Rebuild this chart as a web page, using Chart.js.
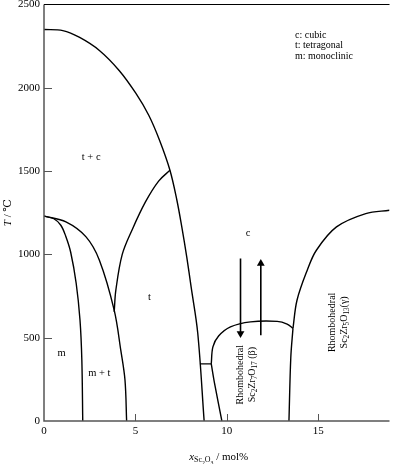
<!DOCTYPE html>
<html>
<head>
<meta charset="utf-8">
<script src="https://cdn.jsdelivr.net/npm/chart.js@4.4.1/dist/chart.umd.min.js"></script>
<style>
  html, body { margin: 0; padding: 0; background: #fff; }
  #wrap { width: 394px; height: 464px; position: relative; }
</style>
</head>
<body>
<div id="wrap"><canvas id="chart"></canvas></div>
<script>
// ---- data: x = Sc2O3 mol%, y = T / °C ----
const xTicks = [0, 5, 10, 15];
const yTicks = [0, 500, 1000, 1500, 2000, 2500];

const outerDome  = [[0,2350],[1.03,2343],[1.95,2302],[3.03,2224],[4.11,2104],[5.03,1966],[5.73,1835],[6.32,1685],[6.89,1505],[7.27,1325],[7.54,1163],[7.81,983],[8.05,803],[8.41,528],[8.76,0]];
const tcCurve    = [[3.84,655],[3.93,785],[4.28,1000],[4.83,1150],[5.55,1315],[6.27,1440],[6.89,1505]];
const tBoundary  = [[0,1230],[1.2,1195],[2.3,1105],[3.03,965],[3.84,665],[4.2,425],[4.43,246],[4.52,0]];
const mBoundary  = [[0,1230],[0.54,1214],[0.92,1175],[1.19,1109],[1.46,1013],[1.76,827],[1.97,605],[2.07,366],[2.12,0]];
const eutectoid  = [[8.53,343],[9.15,343]];
const betaLeft   = [[9.15,343],[9.33,226],[9.73,0]];
const betaDome   = [[9.15,343],[9.24,445],[9.55,510],[10.2,565],[11.3,595],[12.76,598],[13.3,582],[13.62,556]];
const betaRight  = [[13.62,556],[13.5,380],[13.4,0]];
const gammaCurve = [[13.62,556],[13.84,725],[14.4,905],[14.9,1025],[16.0,1165],[17.6,1245],[18.9,1265]];

const arrowDown = [[10.75,975],[10.75,525]];
const arrowUp   = [[11.86,515],[11.86,945]];

const regionLabels = [
  ['t + c', 2.58, 1581],
  ['t', 5.77, 745],
  ['m', 0.96, 406],
  ['m + t', 3.03, 286],
  ['c', 11.17, 1125]
];
const legendNotes = ['c: cubic', 't: tetragonal', 'm: monoclinic'];

const curves = [outerDome, tcCurve, tBoundary, mBoundary, eutectoid, betaLeft, betaDome, betaRight, gammaCurve];

const SERIF = '"Liberation Serif", "DejaVu Serif", serif';

// draws text pieces (s = subscript level, i = italic) centred on (cx, cy)
function drawRich(ctx, parts, cx, cy, size) {
  const sz = p => size * Math.pow(0.72, p.s || 0);
  const fontOf = p => (p.i ? 'italic ' : '') + sz(p) + 'px ' + SERIF;
  const dy = p => (p.s ? size * 0.28 * p.s : 0);
  let w = 0;
  parts.forEach(p => { ctx.font = fontOf(p); w += ctx.measureText(p.t).width; });
  let x = cx - w / 2;
  ctx.textAlign = 'left';
  ctx.textBaseline = 'middle';
  parts.forEach(p => {
    ctx.font = fontOf(p);
    ctx.fillText(p.t, x, cy + dy(p));
    x += ctx.measureText(p.t).width;
  });
}

const decorations = {
  id: 'decorations',
  afterDraw(chart) {
    const { ctx, chartArea: a, scales: { x, y } } = chart;
    ctx.save();
    ctx.fillStyle = '#000';

    // axes frame
    ctx.lineWidth = 1.5;
    ctx.strokeStyle = '#555';
    ctx.beginPath();
    ctx.moveTo(a.left, a.top); ctx.lineTo(a.left, a.bottom); ctx.lineTo(a.right, a.bottom);
    ctx.stroke();
    ctx.strokeStyle = '#000';
    ctx.lineWidth = 1.2;
    ctx.beginPath();
    ctx.moveTo(a.left, a.top); ctx.lineTo(a.right, a.top);
    ctx.stroke();

    // inward ticks
    ctx.strokeStyle = '#555';
    ctx.lineWidth = 1;
    ctx.beginPath();
    xTicks.slice(1).forEach(v => { const px = Math.round(x.getPixelForValue(v)) + 0.5; ctx.moveTo(px, a.bottom); ctx.lineTo(px, a.bottom - 7); });
    yTicks.slice(1, -1).forEach(v => { const py = Math.round(y.getPixelForValue(v)) + 0.5; ctx.moveTo(a.left, py); ctx.lineTo(a.left + 8, py); });
    ctx.stroke();

    // phase region labels
    ctx.font = '10.5px ' + SERIF;
    ctx.textAlign = 'center';
    ctx.textBaseline = 'middle';
    regionLabels.forEach(([t, vx, vy]) => ctx.fillText(t, x.getPixelForValue(vx), y.getPixelForValue(vy)));

    // rotated compound labels
    const rotated = (vx, vy, parts) => {
      ctx.save();
      ctx.translate(x.getPixelForValue(vx), y.getPixelForValue(vy));
      ctx.rotate(-Math.PI / 2);
      drawRich(ctx, parts, 0, 0, 10);
      ctx.restore();
    };
    rotated(10.76, 278, [{ t: 'Rhombohedral' }]);
    rotated(11.42, 278, [{ t: 'Sc' }, { t: '2', s: 1 }, { t: 'Zr' }, { t: '7', s: 1 }, { t: 'O' }, { t: '17', s: 1 }, { t: ' (β)' }]);
    rotated(15.78, 592, [{ t: 'Rhombohedral' }]);
    rotated(16.42, 592, [{ t: 'Sc' }, { t: '2', s: 1 }, { t: 'Zr' }, { t: '5', s: 1 }, { t: 'O' }, { t: '13', s: 1 }, { t: '(γ)' }]);

    // notes
    ctx.font = '10px ' + SERIF;
    ctx.textAlign = 'left';
    legendNotes.forEach((t, i) => ctx.fillText(t, 295, 35 + i * 10.5));

    // axis titles
    drawRich(ctx, [{ t: 'x', i: 1 }, { t: 'Sc', s: 1 }, { t: '2', s: 2 }, { t: 'O', s: 1 }, { t: '3', s: 2 }, { t: ' / mol%' }], (a.left + a.right) / 2 + 2, 457, 11);
    ctx.save();
    ctx.translate(8, (a.top + a.bottom) / 2);
    ctx.rotate(-Math.PI / 2);
    drawRich(ctx, [{ t: 'T', i: 1 }, { t: ' / ℃' }], 0, 0, 11);
    ctx.restore();

    ctx.restore();
  }
};

const lineSet = pts => ({
  data: pts.map(([vx, vy]) => ({ x: vx, y: vy })),
  showLine: true,
  borderColor: '#000',
  borderWidth: 1.4,
  pointRadius: 0,
  tension: 0.35,
  fill: false
});

const arrowSet = (pts, rot) => ({
  data: pts.map(([vx, vy]) => ({ x: vx, y: vy })),
  showLine: true,
  borderColor: '#000',
  borderWidth: 1.6,
  backgroundColor: '#000',
  pointStyle: 'triangle',
  pointRadius: [0, 4.5],
  pointRotation: rot,
  pointBorderWidth: 0,
  pointBackgroundColor: '#000',
  tension: 0
});

new Chart(document.getElementById('chart'), {
  type: 'scatter',
  data: {
    datasets: [
      ...curves.map(lineSet),
      arrowSet(arrowDown, 180),
      arrowSet(arrowUp, 0)
    ]
  },
  options: {
    responsive: true,
    maintainAspectRatio: false,
    animation: false,
    layout: { padding: { top: 4, right: 0, left: 0, bottom: 0 } },
    plugins: { legend: { display: false }, tooltip: { enabled: false } },
    scales: {
      x: {
        type: 'linear', min: 0, max: 18.9,
        afterBuildTicks: s => { s.ticks = xTicks.map(v => ({ value: v })); },
        afterFit: s => { s.height = 43; s.paddingLeft = 0; s.paddingRight = 0; },
        grid: { display: false, drawTicks: false },
        border: { display: false },
        ticks: { color: '#000', padding: 4, maxRotation: 0, callback: v => String(v), font: { family: SERIF, size: 11 } }
      },
      y: {
        type: 'linear', min: 0, max: 2500,
        afterBuildTicks: s => { s.ticks = yTicks.map(v => ({ value: v })); },
        afterFit: s => { s.width = 44; s.paddingTop = 0; s.paddingBottom = 0; },
        grid: { display: false, drawTicks: false },
        border: { display: false },
        ticks: { color: '#000', padding: 4, callback: v => String(v), font: { family: SERIF, size: 11 } }
      }
    }
  },
  plugins: [decorations]
});
</script>
</body>
</html>
